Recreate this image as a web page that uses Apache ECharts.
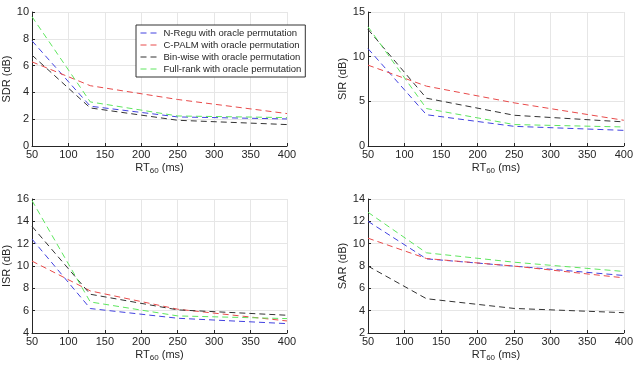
<!DOCTYPE html>
<html>
<head>
<meta charset="utf-8">
<script src="https://cdn.jsdelivr.net/npm/echarts@6/dist/echarts.min.js"></script>
<style>
html, body { margin: 0; padding: 0; background: #fff; }
#chart { width: 636px; height: 372px; }
</style>
</head>
<body>
<div id="chart"></div>
<script>
// RT60 values (ms)
const rt60 = [50, 130, 250, 400];
const methods = [
    'N-Regu with oracle permutation',
    'C-PALM with oracle permutation',
    'Bin-wise with oracle permutation',
    'Full-rank with oracle permutation'
];
const colors = ['#4242e0', '#e84a4a', '#333333', '#5ee65e'];

// SDR (dB)
const sdrNRegu = [7.85, 2.97, 2.17, 2.02];
const sdrCPalm = [6.28, 4.5, 3.47, 2.42];
const sdrBinWise = [6.78, 2.84, 1.92, 1.6];
const sdrFullRank = [9.65, 3.29, 2.24, 2.12];
// SIR (dB)
const sirNRegu = [10.9, 3.5, 2.2, 1.75];
const sirCPalm = [9.05, 6.7, 4.83, 2.88];
const sirBinWise = [13.05, 5.35, 3.44, 2.7];
const sirFullRank = [13.35, 4.19, 2.4, 2.13];
// ISR (dB)
const isrNRegu = [12.41, 6.19, 5.32, 4.84];
const isrCPalm = [10.44, 7.77, 6.13, 5.08];
const isrBinWise = [13.55, 7.47, 6.07, 5.59];
const isrFullRank = [15.86, 6.78, 5.53, 5.29];
// SAR (dB)
const sarNRegu = [12.0, 8.64, 7.99, 7.15];
const sarCPalm = [10.49, 8.67, 7.99, 6.94];
const sarBinWise = [7.99, 5.07, 4.2, 3.82];
const sarFullRank = [12.81, 9.18, 8.34, 7.51];

const panels = [
    { name: 'SDR (dB)', min: 0, max: 10, step: 2, data: [sdrNRegu, sdrCPalm, sdrBinWise, sdrFullRank] },
    { name: 'SIR (dB)', min: 0, max: 15, step: 5, data: [sirNRegu, sirCPalm, sirBinWise, sirFullRank] },
    { name: 'ISR (dB)', min: 4, max: 16, step: 2, data: [isrNRegu, isrCPalm, isrBinWise, isrFullRank] },
    { name: 'SAR (dB)', min: 2, max: 14, step: 2, data: [sarNRegu, sarCPalm, sarBinWise, sarFullRank] }
];

const font = 'Liberation Sans, Arial, sans-serif';
const gridPos = [
    { left: 29, top: 12 },
    { left: 368, top: 12 },
    { left: 29, top: 199 },
    { left: 368, top: 199 }
];

const chart = echarts.init(document.getElementById('chart'));

const grids = [], xAxes = [], yAxes = [], series = [];
panels.forEach((p, i) => {
    grids.push({ left: gridPos[i].left, top: gridPos[i].top, width: 258, height: 134 });
    xAxes.push({
        gridIndex: i, type: 'value', min: 50, max: 400, interval: 50,
        name: 'RT{sub|60} (ms)', nameLocation: 'middle', nameGap: 15,
        nameTextStyle: {
            fontFamily: font, fontSize: 11, color: '#262626',
            rich: { sub: { fontFamily: font, fontSize: 8, color: '#262626', verticalAlign: 'bottom', padding: [6, 0, 0, 0] } }
        },
        axisLine: { lineStyle: { color: '#262626', width: 1 } },
        axisTick: { inside: true, length: 3, lineStyle: { color: '#262626' } },
        axisLabel: { fontFamily: font, fontSize: 11, color: '#262626', margin: 3 },
        splitLine: { show: true, lineStyle: { color: '#e6e6e6' } }
    });
    yAxes.push({
        gridIndex: i, type: 'value', min: p.min, max: p.max, interval: p.step,
        name: p.name, nameLocation: 'middle', nameGap: 20,
        nameTextStyle: { fontFamily: font, fontSize: 11, color: '#262626' },
        axisLine: { show: true, lineStyle: { color: '#262626', width: 1 } },
        axisTick: { show: true, inside: true, length: 3, lineStyle: { color: '#262626' } },
        axisLabel: { fontFamily: font, fontSize: 11, color: '#262626', margin: 3 },
        splitLine: { show: true, lineStyle: { color: '#e6e6e6' } }
    });
    p.data.forEach((vals, k) => {
        series.push({
            name: methods[k], type: 'line', xAxisIndex: i, yAxisIndex: i,
            data: rt60.map((x, j) => [x, vals[j]]),
            symbol: 'none', silent: true,
            lineStyle: { color: colors[k], width: 1, type: [6, 4] },
            itemStyle: { color: colors[k] }
        });
    });
});

chart.setOption({
    animation: false,
    grid: grids,
    xAxis: xAxes,
    yAxis: yAxes,
    legend: {
        data: methods,
        orient: 'vertical',
        left: 136, top: 25,
        itemWidth: 20, itemHeight: 8, itemGap: 2,
        padding: [3, 4, 3, 4],
        backgroundColor: '#fff',
        borderColor: '#333', borderWidth: 1,
        itemStyle: { opacity: 0 },
        lineStyle: { type: [6, 4], width: 1 },
        textStyle: { fontFamily: font, fontSize: 9.5, color: '#262626', padding: [0, 0, 0, -2] }
    },
    series: series
});
</script>
</body>
</html>
